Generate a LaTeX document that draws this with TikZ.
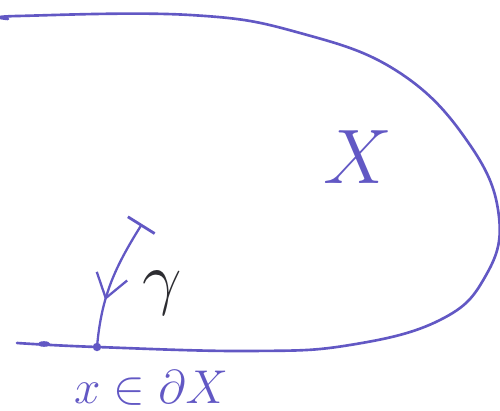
\RequirePackage{fix-cm}
\documentclass[tikz,border=0pt]{standalone}
\usepackage{amsmath,amssymb}
\usepackage{xcolor}
\usepackage{tikz}
\usetikzlibrary{arrows.meta, decorations.markings}
\definecolor{penblue}{RGB}{98,88,196}
\definecolor{pengray}{RGB}{45,45,50}

\begin{document}
\begin{tikzpicture}[
    x=0.02cm, y=-0.02cm,
    % ── Pen styles ──
    bdry/.style={draw=penblue, line width=1.5pt, line cap=round, line join=round},
    pathline/.style={draw=penblue, line width=1.3pt, line cap=round,
                     {Bar[width=18pt, line width=1.6pt]}-,
                     postaction={decorate},
                     decoration={markings, mark=at position 0.64 with
                       {\arrow{Straight Barb[length=13pt, width=18pt, line width=1.3pt]}}}},
    setlbl/.style={text=penblue, inner sep=0pt, font=\fontsize{44}{44}\selectfont},
    ptlbl/.style={text=penblue, inner sep=0pt, font=\fontsize{27}{27}\selectfont},
    gamlbl/.style={text=pengray, inner sep=0pt, font=\fontsize{40}{40}\selectfont}
]
\useasboundingbox (0,0) rectangle (500,411);

% ═══ Boundary of X ═══
\draw[bdry] plot[smooth, tension=0.7] coordinates {
  (8,19) (18,16) (190,15) (300,33) (400,73) (470,145) (499,217)
  (485,277) (440,320) (350,345) (250,351) (97,347) (17,343)};

% ═══ Points ═══
\coordinate (xpt)  at (97,347);
\coordinate (gtip) at (142,224);
\fill[penblue] (xpt) circle (2.4pt);
\fill[penblue] (44,344) coordinate (blob) ellipse (3.6pt and 1.6pt);

% ═══ Path gamma ═══
\draw[pathline] (gtip) to[out=238, in=85] (xpt);

% ═══ Labels ═══
\node[setlbl] (setX) at (358,157) {$X$};
\node[gamlbl] (gam)  at (162,293) {$\gamma$};
\node[ptlbl]  (memb) at (151,388) {$x\in\partial X$};

\end{tikzpicture}
\end{document}
